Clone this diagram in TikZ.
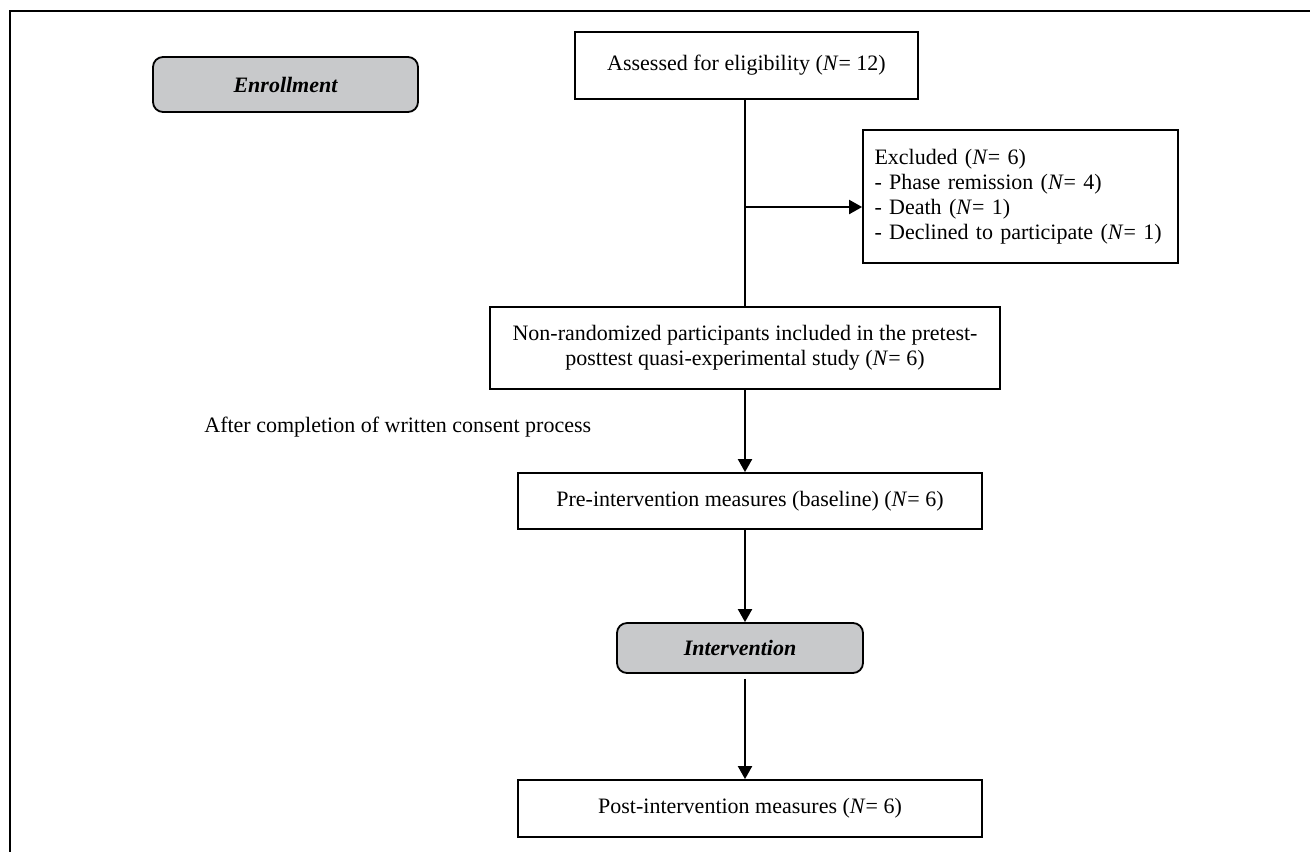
\documentclass[tikz,border=0pt]{standalone}
\usepackage{fontspec}
\setmainfont{Liberation Serif}
\usetikzlibrary{arrows.meta}
\definecolor{phasegray}{RGB}{200,201,203}

\begin{document}
\begin{tikzpicture}[x=0.5pt, y=-0.5pt,
    font=\fontsize{11}{12.5}\selectfont,
    flowbox/.style={draw, line width=0.9pt, inner sep=0pt, align=center},
    phasebox/.style={draw, line width=0.9pt, fill=phasegray, rounded corners=5pt, inner sep=0pt,
      font=\fontsize{11}{12.5}\selectfont\bfseries\itshape},
    flow/.style={line width=1pt, -{Triangle[length=6.5pt, width=7pt]}}]
    \useasboundingbox (0,0) rectangle (1310,852);
    \draw [line width=1pt] (1310,11) -- (10,11) -- (10,852);

    \node [phasebox, minimum width=132.5pt, minimum height=27.5pt] (enroll) at (285.5,84.5) {Enrollment};
    \node [flowbox, minimum width=171.5pt, minimum height=33.5pt] (assess) at (746.5,65.5) {Assessed for eligibility (\textit{N}= 12)};
    \node [flowbox, minimum width=157.5pt, minimum height=66.5pt, text width=146pt, align=left] (excl) at (1020.5,196.5)
      {Excluded (\textit{N}= 6)\\- Phase remission (\textit{N}= 4)\\- Death (\textit{N}= 1)\\- Declined to participate (\textit{N}= 1)};
    \node [flowbox, minimum width=255pt, minimum height=41pt] (nonrand) at (745,348)
      {Non-randomized participants included in the pretest-\\posttest quasi-experimental study (\textit{N}= 6)};
    \node [anchor=west, inner sep=0pt] (consent) at (204,427) {After completion of written consent process};
    \node [flowbox, minimum width=232pt, minimum height=28pt] (pre) at (750,501) {Pre-intervention measures (baseline) (\textit{N}= 6)};
    \node [phasebox, minimum width=123pt, minimum height=25pt] (interv) at (740,648) {Intervention};
    \node [flowbox, minimum width=232pt, minimum height=28.5pt] (post) at (750,808.5) {Post-intervention measures (\textit{N}= 6)};

    \coordinate (split) at (745,207);
    \draw [line width=1pt] (assess.south -| nonrand.north) -- (nonrand.north);
    \draw [flow] (split) -- (split -| excl.west);
    \draw [flow] (nonrand.south) -- (nonrand.south |- pre.north);
    \draw [flow] (pre.south -| nonrand.south) -- (interv.north -| nonrand.south);
    \draw [flow] ([yshift=-2.5pt]interv.south -| nonrand.south) -- (post.north -| nonrand.south);
\end{tikzpicture}
\end{document}
